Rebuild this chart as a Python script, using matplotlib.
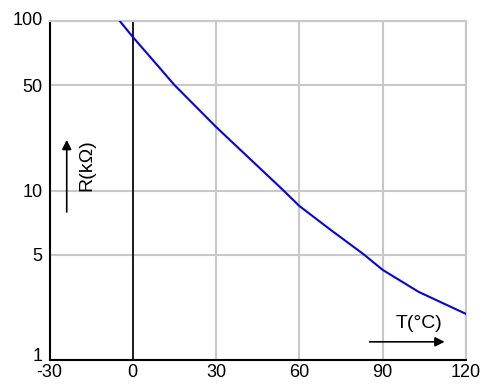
import matplotlib
matplotlib.use("Agg")
import matplotlib.pyplot as plt
from matplotlib.ticker import FixedLocator, FixedFormatter, NullLocator
from matplotlib.transforms import ScaledTranslation

# NTC curve (T in °C, R in kΩ)
temp_c = [-4.7, 0, 7.2, 15, 30, 54, 60, 71, 83, 90, 103, 120]
r_kohm = [100, 80.5, 58.9, 41.9, 23.7, 10.1, 8.1, 5.9, 4.22, 3.40, 2.52, 1.87]

x_ticks = [-30, 0, 30, 60, 90, 120]
x_labels = ["-30", "0", "30", "60", "90", "120"]
# the 50 / 5 grid lines sit lower than a pure log position in the original
y_ticks = [1, 4.19, 10, 41.9, 100]
y_labels = ["1", "5", "10", "50", "100"]

GRID = "#c8c8c8"

plt.rcParams["font.family"] = ["Liberation Sans", "DejaVu Sans"]

fig = plt.figure(figsize=(4.83, 3.87), dpi=100)
ax = fig.add_axes([0.1025, 0.0698, 0.8623, 0.8759])
ax.set_yscale("log")
ax.set_xlim(-30, 120)
ax.set_ylim(1, 100)

ax.xaxis.set_major_locator(FixedLocator(x_ticks))
ax.xaxis.set_major_formatter(FixedFormatter(x_labels))
ax.yaxis.set_major_locator(FixedLocator(y_ticks))
ax.yaxis.set_major_formatter(FixedFormatter(y_labels))
ax.yaxis.set_minor_locator(NullLocator())
ax.tick_params(length=0, labelsize=13, pad=5)
ax.tick_params(axis="x", pad=3)

# nudge "1" and "100" upward like the original
ylabels = ax.get_yticklabels()
ylabels[0].set_transform(ylabels[0].get_transform() +
                         ScaledTranslation(0, 4 / 72, fig.dpi_scale_trans))
ylabels[-1].set_transform(ylabels[-1].get_transform() +
                          ScaledTranslation(0, 2 / 72, fig.dpi_scale_trans))

ax.grid(True, color=GRID, linewidth=1.5)
ax.set_axisbelow(True)

for side in ("top", "right"):
    ax.spines[side].set_color(GRID)
    ax.spines[side].set_linewidth(1.5)
for side in ("left", "bottom"):
    ax.spines[side].set_color("black")
    ax.spines[side].set_linewidth(1.5)

ax.axvline(0, color="black", linewidth=1.2, zorder=2)
ax.plot(temp_c, r_kohm, color="#0000ff", linewidth=1.5, zorder=3)

# axis captions with arrows
ax.annotate("", xy=(-23.8, 19.9), xytext=(-23.8, 7.47),
            arrowprops=dict(arrowstyle="-|>", color="black", lw=1.2,
                            mutation_scale=14, shrinkA=0, shrinkB=0))
ax.text(-16.6, 14.1, "R(kΩ)", rotation=90, fontsize=14,
        ha="center", va="center")
ax.annotate("", xy=(112.3, 1.28), xytext=(85.3, 1.28),
            arrowprops=dict(arrowstyle="-|>", color="black", lw=1.2,
                            mutation_scale=14, shrinkA=0, shrinkB=0))
ax.text(103, 1.65, "T(°C)", fontsize=14, ha="center", va="center")

fig.savefig("out.png", dpi=100)
